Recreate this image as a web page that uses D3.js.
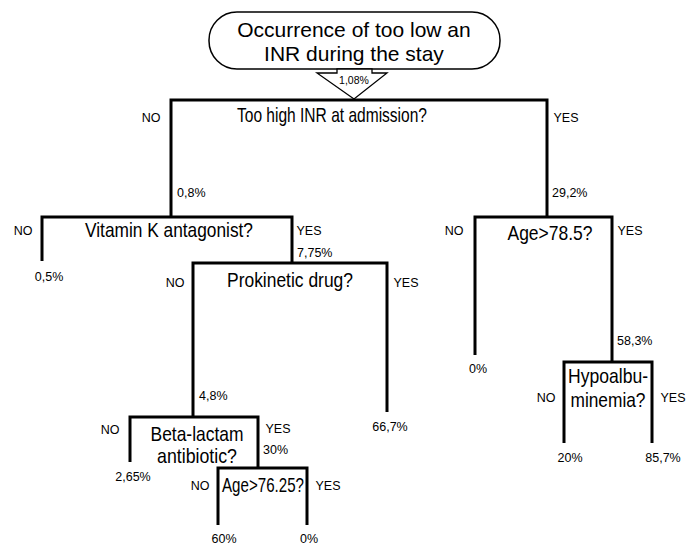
<!DOCTYPE html>
<html>
<head>
<meta charset="utf-8">
<script src="https://cdn.jsdelivr.net/npm/d3@7"></script>
<style>
body { margin: 0; background: #fff; }
text { fill: #000; }
</style>
</head>
<body>
<div id="chart"></div>
<script>
// tree data
var titleLines = ["Occurrence of too low an", "INR during the stay"];
var nodeIds = ["inr", "vka", "age78", "leaf05", "prok", "leaf0a", "hypo", "beta", "leaf667", "leaf20", "leaf857", "leaf265", "age76", "leaf60", "leaf0b"];
var parentIds = [null, "inr", "inr", "vka", "vka", "age78", "age78", "prok", "prok", "hypo", "hypo", "beta", "beta", "age76", "age76"];
var branches = [null, "NO", "YES", "NO", "YES", "NO", "YES", "NO", "YES", "NO", "YES", "NO", "YES", "NO", "YES"];
var rates = ["1,08%", "0,8%", "29,2%", "0,5%", "7,75%", "0%", "58,3%", "4,8%", "66,7%", "20%", "85,7%", "2,65%", "30%", "60%", "0%"];
var questions = [["Too high INR at admission?"], ["Vitamin K antagonist?"], ["Age>78.5?"], null, ["Prokinetic drug?"], null,
    ["Hypoalbu-", "minemia?"], ["Beta-lactam", "antibiotic?"], null, null, null, null, ["Age>76.25?"], null, null];
var branchLabels = ["NO", "YES"];

// layout (pixels) - kept apart from the data
var w = 687, h = 547;
var layout = {
    inr:   { y: 100, x0: 171, x1: 547, text: [[332, 122]], tw: [190], no: [151, 122], yes: [566, 122] },
    vka:   { y: 217, x0: 42,  x1: 292, text: [[169, 237]], tw: [168], no: [23, 235], yes: [309, 235], rate: [177, 197] },
    age78: { y: 217, x0: 475, x1: 612, text: [[550, 240]], tw: [85],  no: [454, 235], yes: [630, 235], rate: [552, 197] },
    prok:  { y: 263, x0: 193, x1: 387, text: [[290, 287]], tw: [126], no: [175, 287], yes: [406, 287], rate: [297, 257] },
    hypo:  { y: 362, x0: 564, x1: 652, text: [[608, 383], [608, 407]], tw: [80, 75], no: [546, 402], yes: [673, 402], rate: [617, 345] },
    beta:  { y: 417, x0: 130, x1: 258, text: [[197, 441], [197, 463]], tw: [93, 80], no: [110, 434], yes: [278, 433], rate: [199, 400] },
    age76: { y: 468, x0: 218, x1: 307, text: [[263, 492]], tw: [82],  no: [200, 490], yes: [328, 490], rate: [263, 454] },
    leaf05:  { y: 261, label: [49, 281] },
    leaf0a:  { y: 355, label: [478, 373] },
    leaf667: { y: 412, label: [390, 431] },
    leaf20:  { y: 443, label: [570, 462] },
    leaf857: { y: 443, label: [663, 462] },
    leaf265: { y: 462, label: [133, 481] },
    leaf60:  { y: 525, label: [224, 543] },
    leaf0b:  { y: 525, label: [309, 543] }
};

var qFont = "'Liberation Sans Narrow', 'Arial Narrow', 'Liberation Sans', Arial, sans-serif";
var sFont = "'Liberation Sans', Arial, sans-serif";

var svg = d3.select("#chart")
    .append("svg")
    .attr("width", w)
    .attr("height", h);

// build hierarchy from the arrays
var table = nodeIds.map(function(id, i) {
    return { id: id, parent: parentIds[i], branch: branches[i], rate: rates[i], question: questions[i] };
});
var root = d3.stratify()
    .id(d => d.id)
    .parentId(d => d.parent)(table);

// title box
svg.append("rect")
    .attr("x", 209).attr("y", 12)
    .attr("width", 291).attr("height", 57)
    .attr("rx", 28).attr("ry", 28)
    .attr("fill", "#fff")
    .attr("stroke", "#000")
    .attr("stroke-width", 1.5);

svg.selectAll("text.title")
    .data(titleLines)
    .enter()
    .append("text")
    .attr("class", "title")
    .attr("x", 354)
    .attr("y", (d, i) => 37 + i * 24)
    .attr("text-anchor", "middle")
    .style("font-family", sFont)
    .style("font-size", "21px")
    .text(d => d);

// hollow arrow into the first split
var arrowPts = [[337, 69], [372, 69], [372, 73], [387, 73], [354, 99], [317, 73], [337, 73]];
svg.append("path")
    .attr("d", d3.line()(arrowPts) + "Z")
    .attr("fill", "#fff")
    .attr("stroke", "#000")
    .attr("stroke-width", 1.3);

svg.append("text")
    .attr("x", 354)
    .attr("y", 84)
    .attr("text-anchor", "middle")
    .style("font-family", sFont)
    .style("font-size", "10.5px")
    .text(root.data.rate);

// split nodes: bar + two legs
var splits = root.descendants().filter(d => d.children);

splits.forEach(function(node) {
    var L = layout[node.id];
    var noChild = node.children.find(c => c.data.branch === "NO");
    var yesChild = node.children.find(c => c.data.branch === "YES");
    var leftEnd = layout[noChild.id].y;
    var rightEnd = layout[yesChild.id].y;

    var p = d3.path();
    p.moveTo(L.x0, leftEnd);
    p.lineTo(L.x0, L.y);
    p.lineTo(L.x1, L.y);
    p.lineTo(L.x1, rightEnd);
    svg.append("path")
        .attr("d", p.toString())
        .attr("fill", "none")
        .attr("stroke", "#000")
        .attr("stroke-width", 3)
        .attr("stroke-linejoin", "miter");

    // question text
    node.data.question.forEach(function(line, i) {
        svg.append("text")
            .attr("x", L.text[i][0])
            .attr("y", L.text[i][1])
            .attr("text-anchor", "middle")
            .attr("textLength", L.tw[i])
            .attr("lengthAdjust", "spacingAndGlyphs")
            .style("font-family", qFont)
            .style("font-size", "21px")
            .text(line);
    });

    // NO / YES labels
    [L.no, L.yes].forEach(function(pos, i) {
        svg.append("text")
            .attr("x", pos[0])
            .attr("y", pos[1])
            .attr("text-anchor", "middle")
            .style("font-family", sFont)
            .style("font-size", "12.5px")
            .text(branchLabels[i]);
    });

    // rate of this node (shown above its bar)
    if (L.rate) {
        svg.append("text")
            .attr("x", L.rate[0])
            .attr("y", L.rate[1])
            .style("font-family", sFont)
            .style("font-size", "12.5px")
            .text(node.data.rate);
    }
});

// leaves: rate under the leg
root.leaves().forEach(function(leaf) {
    var L = layout[leaf.id];
    svg.append("text")
        .attr("x", L.label[0])
        .attr("y", L.label[1])
        .attr("text-anchor", "middle")
        .style("font-family", sFont)
        .style("font-size", "12.5px")
        .text(leaf.data.rate);
});
</script>
</body>
</html>
